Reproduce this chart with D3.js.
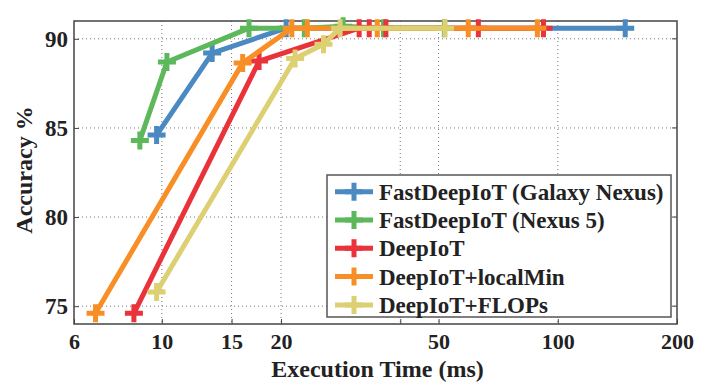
<!DOCTYPE html>
<meta charset="utf-8">
<script src="https://d3js.org/d3.v7.min.js"></script>
<style>
    body { margin: 0; background: #fff; }
    text { font-family: "Liberation Serif", "Times New Roman", serif; font-weight: bold; fill: #222; }
</style>
<div id="my_dataviz"></div>
<script>
    // series values (x = ms, y = accuracy %)
    var seriesNames = ["FastDeepIoT (Galaxy Nexus)", "FastDeepIoT (Nexus 5)", "DeepIoT", "DeepIoT+localMin", "DeepIoT+FLOPs"];
    var seriesColors = ["#4a89c1", "#5cb85a", "#e9323a", "#f78f26", "#ddd072"];

    var galaxyX = [9.7, 13.4, 20.6, 148];
    var galaxyY = [84.6, 89.2, 90.6, 90.6];
    var nexusX = [8.8, 10.3, 16.6, 22.9, 28.7, 36.3, 51.7];
    var nexusY = [84.3, 88.7, 90.6, 90.6, 90.7, 90.6, 90.6];
    var deepX = [8.5, 17.6, 31.5, 33.4, 36.8, 63, 92];
    var deepY = [74.6, 88.75, 90.6, 90.6, 90.6, 90.6, 90.6];
    var localX = [6.8, 16.0, 21.3, 23.3, 35, 59.4, 88.8];
    var localY = [74.6, 88.65, 90.6, 90.6, 90.6, 90.6, 90.6];
    var flopsX = [9.7, 21.7, 25.6, 28.2, 51.9];
    var flopsY = [75.8, 88.9, 89.7, 90.6, 90.6];

    var xTicks = [6, 10, 15, 20, 40, 50, 100, 200];
    var xTickLabels = ["6", "10", "15", "20", "", "50", "100", "200"];
    var yTicks = [75, 80, 85, 90];

    var allX = [galaxyX, nexusX, deepX, localX, flopsX];
    var allY = [galaxyY, nexusY, deepY, localY, flopsY];

    // set the dimensions and margins of the graph
    var margin = { top: 21, right: 37, bottom: 66, left: 74 },
        width = 714 - margin.left - margin.right,
        height = 390 - margin.top - margin.bottom;

    var svg = d3.select("#my_dataviz")
        .append("svg")
        .attr("width", 714)
        .attr("height", 390)
        .append("g")
        .attr("transform", "translate(" + margin.left + "," + margin.top + ")");

    var x = d3.scaleLog().domain([6, 200]).range([0, width]);
    var y = d3.scaleLinear().domain([74, 91]).range([height, 0]);

    // grid
    svg.selectAll("xgrid")
        .data(xTicks.filter(function (d) { return d > 6 && d < 200; }))
        .enter().append("line")
        .attr("x1", function (d) { return x(d); })
        .attr("x2", function (d) { return x(d); })
        .attr("y1", 0).attr("y2", height)
        .attr("stroke", "#777").attr("stroke-width", 1)
        .attr("stroke-dasharray", "1,3");
    svg.selectAll("ygrid")
        .data(yTicks)
        .enter().append("line")
        .attr("x1", 0).attr("x2", width)
        .attr("y1", function (d) { return y(d); })
        .attr("y2", function (d) { return y(d); })
        .attr("stroke", "#777").attr("stroke-width", 1)
        .attr("stroke-dasharray", "1,3");

    // axes (ticks inward)
    var xAxis = svg.append("g")
        .attr("transform", "translate(0," + height + ")")
        .call(d3.axisBottom(x).tickValues(xTicks)
            .tickFormat(function (d, i) { return xTickLabels[i]; })
            .tickSize(-5).tickPadding(9));
    var yAxis = svg.append("g")
        .call(d3.axisLeft(y).tickValues(yTicks).tickSize(-5).tickPadding(6));
    svg.selectAll("rticks")
        .data(yTicks)
        .enter().append("line")
        .attr("x1", width - 5).attr("x2", width)
        .attr("y1", function (d) { return y(d); })
        .attr("y2", function (d) { return y(d); })
        .attr("stroke", "#444");
    [xAxis, yAxis].forEach(function (a) {
        a.select(".domain").remove();
        a.selectAll("line").attr("stroke", "#444");
        a.selectAll("text").style("font-size", "23px").attr("fill", "#222");
    });
    xAxis.selectAll("text").style("font-size", "22px").attr("dy", "0.71em");

    // frame
    svg.append("rect")
        .attr("width", width).attr("height", height)
        .attr("fill", "none").attr("stroke", "#444").attr("stroke-width", 1.5);

    // lines and markers
    var line = d3.line()
        .x(function (d) { return x(d[0]); })
        .y(function (d) { return y(d[1]); });
    var plus = "M-9,0H9M0,-9V9";

    seriesNames.forEach(function (name, k) {
        var pts = allX[k].map(function (v, i) { return [v, allY[k][i]]; });
        svg.append("path")
            .datum(pts)
            .attr("d", line)
            .attr("fill", "none")
            .attr("stroke", seriesColors[k])
            .attr("stroke-width", 5)
            .attr("stroke-linejoin", "round");
        svg.selectAll("m" + k)
            .data(pts)
            .enter().append("path")
            .attr("d", plus)
            .attr("transform", function (d) { return "translate(" + x(d[0]) + "," + y(d[1]) + ")"; })
            .attr("stroke", seriesColors[k])
            .attr("stroke-width", 5)
            .attr("fill", "none");
    });

    // axis titles
    svg.append("text")
        .attr("x", width / 2 + 2)
        .attr("y", height + 53)
        .attr("text-anchor", "middle")
        .style("font-size", "24px")
        .text("Execution Time (ms)");
    svg.append("text")
        .attr("transform", "translate(" + (32 - margin.left) + "," + (170 - margin.top) + ")rotate(-90)")
        .attr("text-anchor", "middle")
        .style("font-size", "24px")
        .text("Accuracy %");

    // legend
    var legend = svg.append("g")
        .attr("transform", "translate(" + (327 - margin.left) + "," + (175 - margin.top) + ")");
    legend.append("rect")
        .attr("width", 344).attr("height", 142)
        .attr("fill", "white").attr("stroke", "#555").attr("stroke-width", 1.5);
    seriesNames.forEach(function (name, k) {
        var ly = 16.7 + k * 28.3;
        legend.append("line")
            .attr("x1", 8).attr("x2", 46)
            .attr("y1", ly).attr("y2", ly)
            .attr("stroke", seriesColors[k]).attr("stroke-width", 5);
        legend.append("path")
            .attr("d", plus)
            .attr("transform", "translate(27," + ly + ")")
            .attr("stroke", seriesColors[k]).attr("stroke-width", 5);
        legend.append("text")
            .attr("x", 52).attr("y", ly)
            .attr("dy", "0.35em")
            .style("font-size", "23px")
            .text(name);
    });
</script>
